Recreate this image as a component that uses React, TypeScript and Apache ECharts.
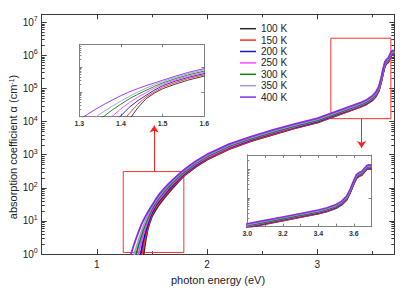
import React, { useEffect, useRef } from 'react';
import * as echarts from 'echarts';

const temperatures = ['100 K', '150 K', '200 K', '250 K', '300 K', '350 K', '400 K'];
const colors = ['#2a2a2a', '#ff2a2a', '#1414c8', '#ff44ff', '#008a00', '#9c9cd8', '#8a2be2'];

// photon energy (eV)
const energy = [1.30, 1.32, 1.34, 1.36, 1.38, 1.40, 1.42, 1.44, 1.46, 1.48,
  1.50, 1.53, 1.56, 1.60, 1.65, 1.70, 1.75, 1.80, 1.90, 2.00,
  2.20, 2.40, 2.60, 2.80, 3.00, 3.10, 3.20, 3.30, 3.40, 3.45,
  3.50, 3.53, 3.56, 3.58, 3.60, 3.615, 3.63, 3.645, 3.66, 3.675,
  3.69, 3.70];

// log10 of absorption coefficient (cm^-1)
const log100K = [null, null, null, null, null, null, -0.12, 0.35, 0.72, 0.95,
  1.13, 1.31, 1.47, 1.64, 1.85, 2.04, 2.22, 2.39, 2.64, 2.85,
  3.17, 3.41, 3.61, 3.80, 3.97, 4.09, 4.21, 4.33, 4.45, 4.53,
  4.64, 4.75, 4.93, 5.18, 5.48, 5.68, 5.75, 5.79, 5.90, 6.00,
  6.02, 5.99];
const log150K = [null, null, null, null, null, -0.25, 0.13, 0.50, 0.79, 1.00,
  1.19, 1.37, 1.53, 1.69, 1.89, 2.08, 2.25, 2.41, 2.66, 2.87,
  3.18, 3.42, 3.62, 3.81, 3.98, 4.10, 4.22, 4.34, 4.46, 4.54,
  4.65, 4.76, 4.94, 5.19, 5.49, 5.69, 5.76, 5.80, 5.91, 6.01,
  6.03, 6.00];
const log200K = [null, null, null, null, -0.30, 0.04, 0.38, 0.64, 0.86, 1.07,
  1.25, 1.43, 1.58, 1.74, 1.94, 2.12, 2.29, 2.44, 2.69, 2.90,
  3.21, 3.45, 3.65, 3.83, 4.00, 4.12, 4.24, 4.36, 4.48, 4.56,
  4.67, 4.78, 4.96, 5.21, 5.51, 5.71, 5.78, 5.82, 5.93, 6.03,
  6.05, 6.02];
const log250K = [null, null, null, -0.20, 0.03, 0.32, 0.57, 0.78, 0.97, 1.15,
  1.31, 1.48, 1.63, 1.79, 1.99, 2.16, 2.32, 2.47, 2.72, 2.92,
  3.23, 3.47, 3.67, 3.85, 4.02, 4.14, 4.26, 4.38, 4.50, 4.58,
  4.69, 4.80, 4.98, 5.23, 5.53, 5.73, 5.80, 5.84, 5.95, 6.05,
  6.07, 6.04];
const log300K = [null, null, -0.20, 0.03, 0.28, 0.51, 0.72, 0.90, 1.06, 1.22,
  1.36, 1.53, 1.68, 1.84, 2.03, 2.20, 2.36, 2.50, 2.75, 2.95,
  3.26, 3.49, 3.69, 3.87, 4.04, 4.16, 4.28, 4.40, 4.52, 4.60,
  4.71, 4.82, 5.00, 5.25, 5.55, 5.75, 5.82, 5.86, 5.97, 6.07,
  6.09, 6.06];
const log350K = [null, -0.22, 0.00, 0.22, 0.43, 0.63, 0.82, 0.99, 1.15, 1.29,
  1.42, 1.58, 1.73, 1.89, 2.08, 2.24, 2.40, 2.54, 2.78, 2.98,
  3.29, 3.52, 3.72, 3.90, 4.07, 4.19, 4.31, 4.43, 4.55, 4.63,
  4.74, 4.85, 5.03, 5.28, 5.58, 5.78, 5.85, 5.89, 6.00, 6.10,
  6.12, 6.09];
const log400K = [-0.12, 0.10, 0.31, 0.50, 0.68, 0.85, 1.00, 1.13, 1.25, 1.36,
  1.47, 1.63, 1.78, 1.94, 2.12, 2.28, 2.43, 2.57, 2.81, 3.01,
  3.32, 3.55, 3.75, 3.93, 4.10, 4.22, 4.34, 4.46, 4.58, 4.66,
  4.77, 4.88, 5.06, 5.31, 5.61, 5.81, 5.88, 5.92, 6.03, 6.13,
  6.15, 6.12];
const seriesLogs = [log100K, log150K, log200K, log250K, log300K, log350K, log400K];

// axes
const mainXRange = [0.5, 3.7];
const mainYRange = [1, 1.74e7];
const mainXMajor = [1, 2, 3];
const mainXMinor = [1.5, 2.5, 3.5];
const inset1XRange = [1.3, 1.6];
const inset1YRange = [1, 830];
const inset1XTicks = [1.3, 1.4, 1.5, 1.6];
const inset2XRange = [3.0, 3.7];
const inset2YRange = [1e4, 3.1e6];
const inset2XLabels = [3.0, 3.2, 3.4, 3.6];
const inset2XTicks = [3.0, 3.1, 3.2, 3.3, 3.4, 3.5, 3.6];

// zoom boxes and arrows (data coordinates of main plot)
const zoomBox1 = [[1.24, 1.12], [1.79, 310]];
const zoomBox2 = [[3.124, 1.23e4], [3.669, 3.3e6]];
const arrow1 = [[1.521, 310], [1.521, 7600]];
const arrow2 = [[3.403, 1.23e4], [3.403, 1600]];

const FONT = 'Liberation Sans, Arial, Helvetica, sans-serif';

function logMinor(min: number, max: number) {
  const out: number[] = [];
  for (let d = Math.floor(Math.log10(min)); d <= Math.ceil(Math.log10(max)); d++) {
    for (let m = 2; m <= 9; m++) {
      const v = m * Math.pow(10, d);
      if (v > min && v < max) out.push(v);
    }
  }
  return out;
}

export default function App() {
  const ref = useRef<HTMLDivElement>(null);
  useEffect(() => {
    if (!ref.current) return;
    const chart = echarts.init(ref.current, null, { renderer: 'svg' });

    const xAxes: any[] = [];
    const yAxes: any[] = [];

    const xAx = (grid: number, range: number[], position: string, ticks: number[], len: number, color: string, label?: any) => {
      xAxes.push({
        type: 'value', gridIndex: grid, min: range[0], max: range[1], position,
        axisLine: { show: true, onZero: false, lineStyle: { color, width: 1 } },
        axisTick: { show: true, inside: true, length: len, customValues: ticks, lineStyle: { color, width: 1 } },
        axisLabel: label ? label : { show: false },
        splitLine: { show: false },
      });
      return xAxes.length - 1;
    };
    const yAx = (grid: number, range: number[], position: string, ticks: number[] | null, len: number, color: string, label?: any) => {
      const tick: any = { show: true, inside: true, length: len, lineStyle: { color, width: 1 } };
      if (ticks) tick.customValues = ticks;
      yAxes.push({
        type: 'log', logBase: 10, gridIndex: grid, min: range[0], max: range[1], position,
        axisLine: { show: true, onZero: false, lineStyle: { color, width: 1 } },
        axisTick: tick,
        axisLabel: label ? label : { show: false },
        splitLine: { show: false },
        minorTick: { show: false },
      });
      return yAxes.length - 1;
    };

    const mainColor = '#3a3a3a';
    const insetColor = '#808080';
    // main grid 0
    const mx = xAx(0, mainXRange, 'bottom', mainXMajor, 5, mainColor, {
      show: true, customValues: mainXMajor, margin: 5, fontSize: 10, color: '#222', fontFamily: FONT,
    });
    xAxes[mx].name = 'photon energy (eV)';
    xAxes[mx].nameLocation = 'middle';
    xAxes[mx].nameGap = 15;
    xAxes[mx].nameTextStyle = { fontSize: 11, color: '#222', fontFamily: FONT };
    xAx(0, mainXRange, 'bottom', mainXMinor, 3, mainColor);
    xAx(0, mainXRange, 'top', mainXMajor, 5, mainColor);
    xAx(0, mainXRange, 'top', mainXMinor, 3, mainColor);
    const my = yAx(0, mainYRange, 'left', null, 5, mainColor, {
      show: true, margin: 4, showMaxLabel: false, fontFamily: FONT, color: '#222',
      formatter: (v: number) => `{b|10}{s|${Math.round(Math.log10(v))}}`,
      rich: {
        b: { fontSize: 10, lineHeight: 14, fontFamily: FONT, color: '#222' },
        s: { fontSize: 7, lineHeight: 7, verticalAlign: 'top', fontFamily: FONT, color: '#222' },
      },
    });
    yAx(0, mainYRange, 'left', logMinor(mainYRange[0], mainYRange[1]), 3, mainColor);
    yAx(0, mainYRange, 'right', null, 5, mainColor);
    yAx(0, mainYRange, 'right', logMinor(mainYRange[0], mainYRange[1]), 3, mainColor);

    // inset 1 grid 1
    const i1x = xAx(1, inset1XRange, 'bottom', inset1XTicks, 3, insetColor, {
      show: true, customValues: inset1XTicks, margin: 3, fontSize: 7, fontWeight: 'bold', color: '#333', fontFamily: FONT,
      formatter: (v: number) => v.toFixed(1),
    });
    xAx(1, inset1XRange, 'top', inset1XTicks, 3, insetColor);
    const i1y = yAx(1, inset1YRange, 'left', null, 3, insetColor);
    yAx(1, inset1YRange, 'left', logMinor(inset1YRange[0], inset1YRange[1]), 2, insetColor);
    yAx(1, inset1YRange, 'right', null, 3, insetColor);

    // inset 2 grid 2
    const i2x = xAx(2, inset2XRange, 'bottom', inset2XTicks, 3, insetColor, {
      show: true, customValues: inset2XLabels, margin: 3, fontSize: 7, fontWeight: 'bold', color: '#333', fontFamily: FONT,
      formatter: (v: number) => v.toFixed(1),
    });
    xAx(2, inset2XRange, 'top', inset2XTicks, 3, insetColor);
    const i2y = yAx(2, inset2YRange, 'left', null, 3, insetColor);
    yAx(2, inset2YRange, 'left', logMinor(inset2YRange[0], inset2YRange[1]), 2, insetColor);
    yAx(2, inset2YRange, 'right', null, 3, insetColor);

    const makeData = (logs: (number | null)[]) =>
      energy.map((e, i) => [e, logs[i]]).filter((p) => p[1] !== null).map((p) => [p[0], Math.pow(10, p[1] as number)]);

    const series: any[] = [];
    const grids = [
      { x: mx, y: my, w: 1.8 },
      { x: i1x, y: i1y, w: 0.9 },
      { x: i2x, y: i2y, w: 1.6 },
    ];
    grids.forEach((g, gi) => {
      temperatures.forEach((t, i) => {
        const s: any = {
          type: 'line', name: t, xAxisIndex: g.x, yAxisIndex: g.y,
          data: makeData(seriesLogs[i]), showSymbol: false, symbol: 'none',
          lineStyle: { color: colors[i], width: g.w }, itemStyle: { color: colors[i] },
          clip: true, silent: true, z: 3,
        };
        if (gi === 0 && i === 0) {
          s.markArea = {
            silent: true,
            label: { show: false },
            itemStyle: { color: 'rgba(0,0,0,0)', borderColor: '#ff3030', borderWidth: 1 },
            data: [
              [{ coord: zoomBox1[0] }, { coord: zoomBox1[1] }],
              [{ coord: zoomBox2[0] }, { coord: zoomBox2[1] }],
            ],
          };
          s.markLine = {
            silent: true,
            symbol: ['none', 'arrow'],
            symbolSize: 7,
            label: { show: false },
            lineStyle: { color: '#ff2020', width: 1, type: 'solid' },
            data: [
              [{ coord: arrow1[0] }, { coord: arrow1[1] }],
              [{ coord: arrow2[0] }, { coord: arrow2[1] }],
            ],
          };
        }
        series.push(s);
      });
    });

    chart.setOption({
      animation: false,
      backgroundColor: '#ffffff',
      grid: [
        { left: 41.7, top: 14.3, right: 20.7, bottom: 30, containLabel: false },
        { left: 79.3, top: 44.3, width: 125, height: 72.4, show: true, backgroundColor: '#fff', borderWidth: 0 },
        { left: 247.3, top: 155, width: 124.2, height: 71.7, show: true, backgroundColor: '#fff', borderWidth: 0 },
      ],
      xAxis: xAxes,
      yAxis: yAxes,
      legend: {
        data: temperatures,
        orient: 'vertical',
        left: 240,
        top: 23,
        icon: 'rect',
        itemWidth: 16,
        itemHeight: 1.5,
        itemGap: 0,
        selectedMode: false,
        padding: 0,
        textStyle: { fontSize: 10, lineHeight: 11.4, color: '#222', fontFamily: FONT },
      },
      graphic: [
        {
          type: 'text', x: 13, y: 147, rotation: Math.PI / 2,
          style: {
            text: 'absorption coefficient α (cm{s|-1})',
            fontSize: 11, fontFamily: FONT, fill: '#222', align: 'center', verticalAlign: 'middle',
            rich: { s: { fontSize: 7, verticalAlign: 'top', lineHeight: 8, fontFamily: FONT, fill: '#222' } },
          },
        },
      ],
      series,
    });
    return () => chart.dispose();
  }, []);
  return <div ref={ref} style={{ width: 415, height: 290, position: 'absolute', left: 0, top: 0 }} />;
}
